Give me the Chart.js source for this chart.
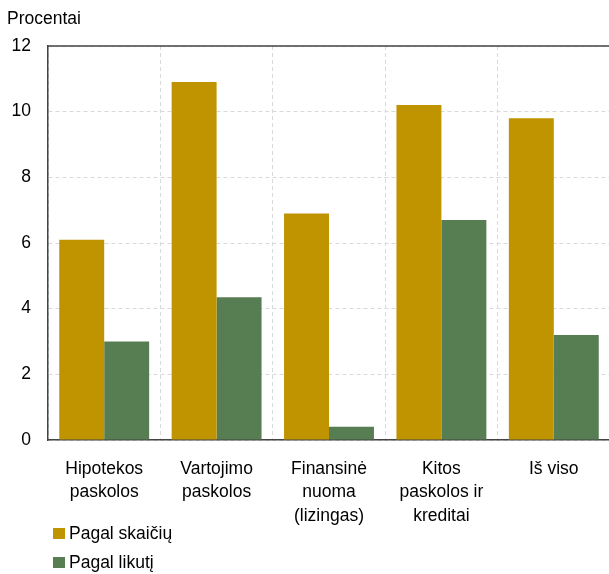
<!DOCTYPE html>
<html>
<head>
<meta charset="utf-8">
<script src="https://cdn.jsdelivr.net/npm/chart.js@4"></script>
<style>
  html, body { margin: 0; padding: 0; background: #fff; overflow: hidden; }
  body { width: 609px; height: 574px; position: relative; font-family: "Liberation Sans", Arial, sans-serif; }
  #wrap { position: absolute; left: 0; top: 0; width: 611px; height: 574px; }
  .unit { position: absolute; left: 7px; top: 8px; font-size: 17.5px; line-height: 20px; color: #000; }
  .legend { position: absolute; left: 53px; top: 519px; font-size: 17.5px; color: #000; }
  .legend div { display: flex; align-items: center; height: 29px; }
  .legend span.sw { display: inline-block; width: 12px; height: 11px; margin-right: 4px; }
</style>
</head>
<body>
<div id="wrap"><canvas id="c" width="611" height="574"></canvas></div>
<div class="unit">Procentai</div>
<div class="legend" id="legend"></div>
<script>
const categories = [
  ['Hipotekos', 'paskolos'],
  ['Vartojimo', 'paskolos'],
  ['Finansinė', 'nuoma', '(lizingas)'],
  ['Kitos', 'paskolos ir', 'kreditai'],
  ['Iš viso']
];
const seriesNames = ['Pagal skaičių', 'Pagal likutį'];
const byCount = [6.1, 10.9, 6.9, 10.2, 9.8];
const byBalance = [3.0, 4.35, 0.4, 6.7, 3.2];
const yTicks = [0, 2, 4, 6, 8, 10, 12];

const colors = ['#bf9400', '#577d52'];

// legend as html, two rows at bottom left
document.getElementById('legend').innerHTML = seriesNames.map((name, i) =>
  `<div><span class="sw" style="background:${colors[i]}"></span>${name}</div>`
).join('');

// frame round the plot area (top/right sides)
const frame = {
  id: 'frame',
  afterDraw(chart) {
    const a = chart.chartArea, ctx = chart.ctx;
    ctx.save();
    ctx.strokeStyle = '#444';
    ctx.lineWidth = 1.5;
    ctx.beginPath();
    ctx.moveTo(a.left, a.top);
    ctx.lineTo(a.right, a.top);
    ctx.lineTo(a.right, a.bottom);
    ctx.stroke();
    ctx.restore();
  }
};

new Chart(document.getElementById('c'), {
  type: 'bar',
  data: {
    labels: categories,
    datasets: [
      { label: seriesNames[0], data: byCount, backgroundColor: colors[0], borderWidth: 0 },
      { label: seriesNames[1], data: byBalance, backgroundColor: colors[1], borderWidth: 0 }
    ]
  },
  options: {
    responsive: false,
    animation: false,
    layout: { padding: { top: 46, right: 1, left: 0, bottom: 0 } },
    datasets: { bar: { categoryPercentage: 0.8, barPercentage: 1.0 } },
    plugins: { legend: { display: false }, tooltip: { enabled: false } },
    scales: {
      x: {
        afterFit(s) { s.height = 134; },
        grid: { color: '#d9d9d9', drawTicks: false, offset: true },
        border: { color: '#444', width: 1.5, dash: [4, 3] },
        ticks: {
          color: '#000',
          font: { family: 'Liberation Sans', size: 17.5, lineHeight: 1.32 },
          padding: 18,
          maxRotation: 0,
          autoSkip: false
        }
      },
      y: {
        min: 0,
        max: 12,
        afterFit(s) { s.width = 48; },
        afterBuildTicks(s) { s.ticks = yTicks.map(v => ({ value: v })); },
        grid: { color: '#d9d9d9', drawTicks: false },
        border: { color: '#444', width: 1.5, dash: [4, 3] },
        ticks: {
          color: '#000',
          font: { family: 'Liberation Sans', size: 17.5 },
          padding: 17
        }
      }
    }
  },
  plugins: [frame]
});
</script>
</body>
</html>
